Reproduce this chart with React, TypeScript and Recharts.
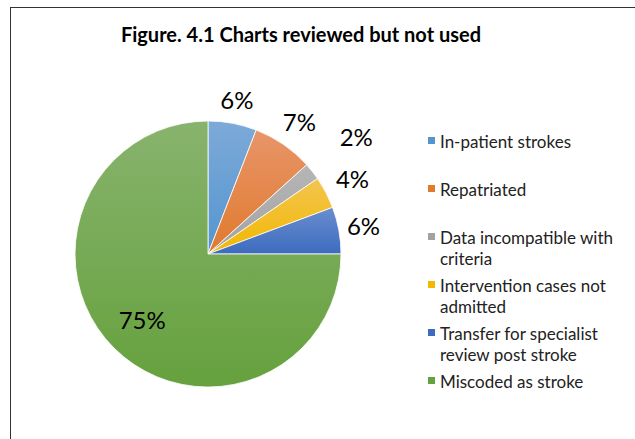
import { Cell, Legend, Pie, PieChart } from "recharts";

const categories = [
  "In-patient strokes",
  "Repatriated",
  "Data incompatible with criteria",
  "Intervention cases not admitted",
  "Transfer for specialist review post stroke",
  "Miscoded as stroke",
];

// legend wraps like the original
const legendLines = [
  ["In-patient strokes"],
  ["Repatriated"],
  ["Data incompatible with", "criteria"],
  ["Intervention cases not", "admitted"],
  ["Transfer for specialist", "review post stroke"],
  ["Miscoded as stroke"],
];

const shares = [5.9, 7.4, 2.1, 3.9, 5.7, 75];

const topColors = ["#7DAAD8", "#E8956A", "#B6B6B6", "#F2C550", "#6A8ECF", "#88B36D"];
const baseColors = ["#5495D0", "#E07A2D", "#A2A2A2", "#F2B800", "#3D6BBE", "#65A13D"];

const rows = categories.map((name, i) => ({ name, value: shares[i] }));

const FONT = "Lato, 'Noto Sans', sans-serif";
const RAD = Math.PI / 180;
// distance of each percent label beyond the rim (negative = inside)
const labelGap = [24, 28, 56, 30, 25, -40];

const renderLabel = (props: any) => {
  const { cx, cy, midAngle, outerRadius, percent, index } = props;
  const r = outerRadius + labelGap[index];
  const x = cx + r * Math.cos(-midAngle * RAD);
  const y = cy + r * Math.sin(-midAngle * RAD);
  return (
    <text
      x={x}
      y={y}
      fill="#000"
      fontSize={24}
      fontFamily={FONT}
      textAnchor="middle"
      dominantBaseline="central"
    >
      {`${Math.round(percent * 100)}%`}
    </text>
  );
};

const renderLegend = () => (
  <div style={{ fontFamily: FONT, fontSize: 17, color: "#222" }}>
    {legendLines.map((lines, i) => (
      <div key={i} style={{ position: "relative", height: 48, paddingLeft: 12 }}>
        <span
          style={{
            position: "absolute",
            left: 0,
            top: 6,
            width: 7,
            height: 7,
            background: baseColors[i],
          }}
        />
        {lines.map((line) => (
          <div key={line} style={{ lineHeight: "21px" }}>
            {line}
          </div>
        ))}
      </div>
    ))}
  </div>
);

export default function App() {
  return (
    <div
      style={{
        position: "absolute",
        left: 10,
        top: 7,
        width: 625,
        height: 432,
        borderTop: "1.5px solid #333",
        borderLeft: "1.5px solid #333",
        background: "#fff",
        overflow: "hidden",
      }}
    >
      <div
        style={{
          position: "absolute",
          left: 0,
          top: 14,
          width: 580,
          textAlign: "center",
          fontFamily: FONT,
          fontWeight: 700,
          fontSize: 20,
          color: "#000",
        }}
      >
        Figure. 4.1 Charts reviewed but not used
      </div>
      <PieChart
        width={625}
        height={432}
        margin={{ top: 0, right: 0, bottom: 0, left: 0 }}
        style={{ position: "absolute", left: 0, top: 0 }}
      >
        <defs>
          {baseColors.map((c, i) => (
            <linearGradient key={i} id={`slice${i}`} x1="0" y1="0" x2="0" y2="1">
              <stop offset="0%" stopColor={topColors[i]} />
              <stop offset="100%" stopColor={c} />
            </linearGradient>
          ))}
        </defs>
        <Pie
          data={rows}
          dataKey="value"
          nameKey="name"
          cx={197}
          cy={246}
          outerRadius={133}
          startAngle={90}
          endAngle={-270}
          stroke="#fff"
          strokeWidth={0.8}
          label={renderLabel}
          labelLine={false}
          isAnimationActive={false}
        >
          {rows.map((row, i) => (
            <Cell key={row.name} fill={`url(#slice${i})`} />
          ))}
        </Pie>
        <Legend
          content={renderLegend}
          layout="vertical"
          wrapperStyle={{ position: "absolute", left: 417, top: 123, width: 210 }}
        />
      </PieChart>
    </div>
  );
}
